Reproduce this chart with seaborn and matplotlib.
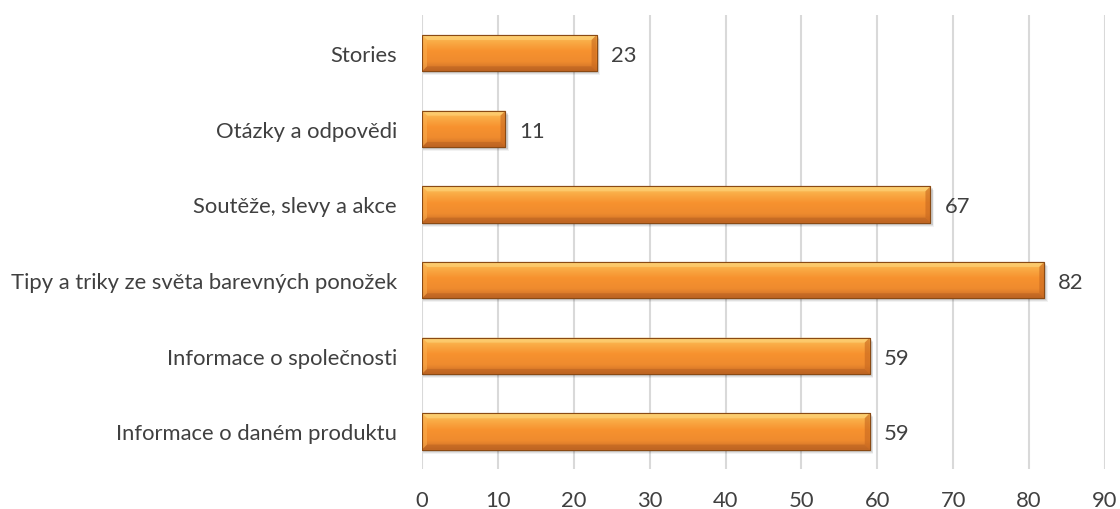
import matplotlib
matplotlib.use("Agg")
import matplotlib.pyplot as plt
import numpy as np
import pandas as pd
import seaborn as sns
from matplotlib.patches import Polygon, Rectangle
from matplotlib.colors import LinearSegmentedColormap

categories = [
    "Stories",
    "Otázky a odpovědi",
    "Soutěže, slevy a akce",
    "Tipy a triky ze světa barevných ponožek",
    "Informace o společnosti",
    "Informace o daném produktu",
]
values = [23, 11, 67, 82, 59, 59]
x_ticks = [0, 10, 20, 30, 40, 50, 60, 70, 80, 90]

sns.set_theme(style="white")
plt.rcParams["font.family"] = ["Lato", "DejaVu Sans"]

TEXT = "#404040"
GRID = "#D9D9D9"
FS = 15.8

df = pd.DataFrame({"kategorie": categories, "pocet": values})

fig = plt.figure(figsize=(11.2, 5.1), dpi=100)
ax = fig.add_axes([0.3768, 0.078, 0.6098, 0.890])

sns.barplot(data=df, x="pocet", y="kategorie", orient="h", color="#F7922F",
            width=0.48, ax=ax, saturation=1, edgecolor="#8A4A14", linewidth=0.8,
            zorder=3)

ax.set_xlim(0, 90)
ax.set_ylim(len(categories) - 0.5, -0.5)
ax.set_xticks(x_ticks)
ax.set_xticklabels([str(t) for t in x_ticks])
ax.xaxis.grid(True, color=GRID, linewidth=1.5, zorder=0)
ax.yaxis.grid(False)
ax.set_axisbelow(True)
for s in ax.spines.values():
    s.set_visible(False)
ax.tick_params(axis="x", length=0, pad=15, labelsize=FS, labelcolor=TEXT)
ax.tick_params(axis="y", length=0, pad=18, labelsize=FS, labelcolor=TEXT)
ax.set_xlabel("")
ax.set_ylabel("")

# data-unit size of one pixel, used for bevel and shadow geometry
fig.canvas.draw()
bb = ax.get_window_extent()
px_x = 90.0 / bb.width
px_y = len(categories) / bb.height

grad = LinearSegmentedColormap.from_list(
    "bar", [(0.0, "#FDCB66"), (0.18, "#FAAE48"), (0.45, "#F7922F"),
            (0.75, "#EF8B2E"), (1.0, "#C96C27")])

for patch in list(ax.patches):
    x0, y0 = patch.get_x(), patch.get_y()
    w, h = patch.get_width(), patch.get_height()
    top, bot = y0, y0 + h  # y axis inverted: y0 is visual top
    # soft shadow below and right
    for k, a in [(4, 0.05), (3, 0.07), (2, 0.09)]:
        ax.add_patch(Rectangle((x0 + px_x * 1, top + px_y * k), w + px_x * k * 0.6, h,
                               facecolor="#000000", alpha=a, edgecolor="none", zorder=2))
    # vertical gradient fill
    img = np.linspace(0, 1, 64).reshape(-1, 1)
    im = ax.imshow(img, cmap=grad, aspect="auto",
                   extent=(x0, x0 + w, bot, top), zorder=3.5, interpolation="bicubic")
    im.set_clip_path(patch)
    # bevel edges
    bx = px_x * 5
    by = px_y * 5
    top_band = Polygon([(x0, top), (x0 + w, top), (x0 + w - bx, top + by), (x0 + bx, top + by)],
                       closed=True, facecolor="#FDD77E", edgecolor="none", alpha=0.55, zorder=4)
    bot_band = Polygon([(x0, bot), (x0 + w, bot), (x0 + w - bx, bot - by), (x0 + bx, bot - by)],
                       closed=True, facecolor="#B25C1E", edgecolor="none", alpha=0.45, zorder=4)
    left_band = Polygon([(x0, top), (x0 + bx, top + by), (x0 + bx, bot - by), (x0, bot)],
                        closed=True, facecolor="#FBB04F", edgecolor="none", alpha=0.55, zorder=4)
    right_band = Polygon([(x0 + w, top), (x0 + w - bx, top + by), (x0 + w - bx, bot - by), (x0 + w, bot)],
                         closed=True, facecolor="#C8681F", edgecolor="none", alpha=0.6, zorder=4)
    for p in (top_band, bot_band, left_band, right_band):
        ax.add_patch(p)
    ax.add_patch(Rectangle((x0, y0), w, h, facecolor="none", edgecolor="#8A4A14",
                           linewidth=0.8, zorder=5))
    patch.set_facecolor("none")

for i, v in enumerate(values):
    ax.text(v + px_x * 14, i, str(v), va="center_baseline", ha="left",
            fontsize=FS, color=TEXT, zorder=6)

fig.savefig("out.png", dpi=100, facecolor="white")
